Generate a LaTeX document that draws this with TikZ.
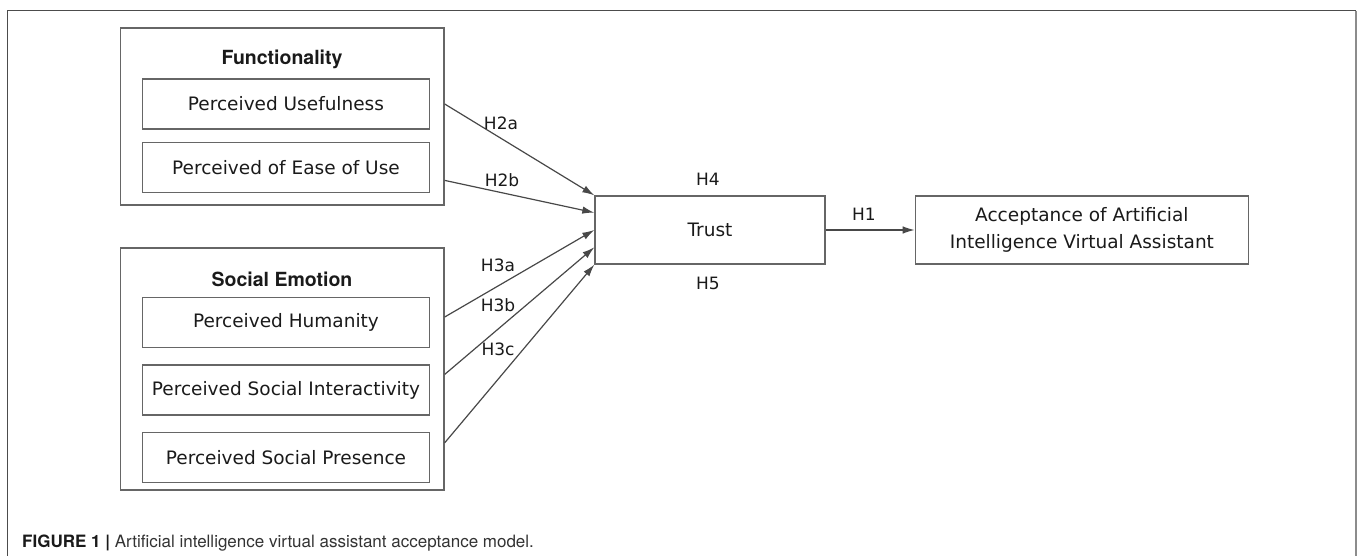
\documentclass[tikz,border=0pt]{standalone}
\usepackage{fontspec}
\setmainfont{TeX Gyre Heros}
\newfontfamily\boxfont{DejaVu Sans}
\usetikzlibrary{arrows.meta,positioning,calc}
\definecolor{linegray}{HTML}{484848}
\definecolor{boxgray}{HTML}{666666}
\definecolor{textdark}{HTML}{1A1A1A}
\tikzset{every node/.append style={text=textdark}}
\tikzset{construct/.style={draw=boxgray, line width=1.4pt, minimum width=287pt,
    minimum height=50pt, inner sep=0pt, font=\boxfont\fontsize{18.5}{27}\selectfont}}
\tikzset{group/.style={draw=boxgray, line width=1.4pt, minimum width=323.5pt,
    inner sep=0pt}}
\tikzset{grouptitle/.style={font=\bfseries\fontsize{19.5}{22}\selectfont}}
\tikzset{hyp/.style={font=\boxfont\fontsize{17}{20}\selectfont, inner sep=0pt}}
\tikzset{hyparrow/.style={draw=linegray, line width=1.2pt,
    -{Latex[length=12pt,width=7.5pt]}}}

\begin{document}
\begin{tikzpicture}[x=1pt, y=-1pt]
  \useasboundingbox (0,0) rectangle (1358,556);
  % outer frame, open at the bottom
  \draw[draw=black!70, line width=1.2pt] (7.5,556) -- (7.5,10.7) -- (1355.5,10.7);
  \draw[draw=black!45, line width=2pt] (1355.5,10.7) -- (1355.5,556);

  % functionality group
  \node[group, minimum height=177pt] (func) at (282.25,116.5) {};
  \node[grouptitle] (functitle) at (282,59) {Functionality};
  \node[construct] (pu) at (286,104) {Perceived Usefulness};
  \node[construct, below=12pt of pu] (peou) {Perceived of Ease of Use};

  % social emotion group
  \node[group, minimum height=242pt] (social) at (282.25,369) {};
  \node[grouptitle] (socialtitle) at (282,279) {Social Emotion};
  \node[construct] (hum) at (286,322.5) {Perceived Humanity};
  \node[construct, below=16pt of hum] (inter) {Perceived Social Interactivity};
  \node[construct, below=16pt of inter] (pres) {Perceived Social Presence};

  \node[construct, minimum width=230pt, minimum height=68pt] (trust) at (710,230) {Trust};
  \node[construct, minimum width=333pt, minimum height=68pt, align=center,
    right=89pt of trust] (accept) {Acceptance of Artificial\\Intelligence Virtual Assistant};

  \coordinate (s2a) at (func.east |- pu.east);
  \coordinate (s2b) at ($(func.east |- peou.east)+(0,13)$);
  \coordinate (s3a) at ($(social.east |- hum.east)+(0,-5.5)$);
  \coordinate (s3b) at ($(social.east |- inter.east)+(0,-15.5)$);
  \coordinate (s3c) at ($(social.east |- pres.east)+(0,-14.5)$);

  \draw[hyparrow] (s2a) -- (trust.north west);
  \draw[hyparrow] (s2b) -- ($(trust.north west)!.25!(trust.south west)$);
  \draw[hyparrow] (s3a) -- ($(trust.north west)!.5!(trust.south west)$);
  \draw[hyparrow] (s3b) -- ($(trust.north west)!.75!(trust.south west)$);
  \draw[hyparrow] (s3c) -- (trust.south west);
  \draw[hyparrow] (trust) -- (accept);

  \node[hyp] (h2a) at (501,123) {H2a};
  \node[hyp] (h2b) at (502,180) {H2b};
  \node[hyp] (h3a) at (498,265) {H3a};
  \node[hyp] (h3b) at (498,305) {H3b};
  \node[hyp] (h3c) at (498,349) {H3c};
  \node[hyp] (h4) at (708,179) {H4};
  \node[hyp] (h5) at (708,283) {H5};
  \node[hyp] (h1) at (864,214) {H1};

  \node[anchor=west, inner sep=0pt, font=\fontsize{17}{20}\selectfont] (caption) at (22,543)
    {\textbf{FIGURE 1 |} {\color{black!80}Artificial intelligence virtual assistant acceptance model.}};
\end{tikzpicture}
\end{document}
